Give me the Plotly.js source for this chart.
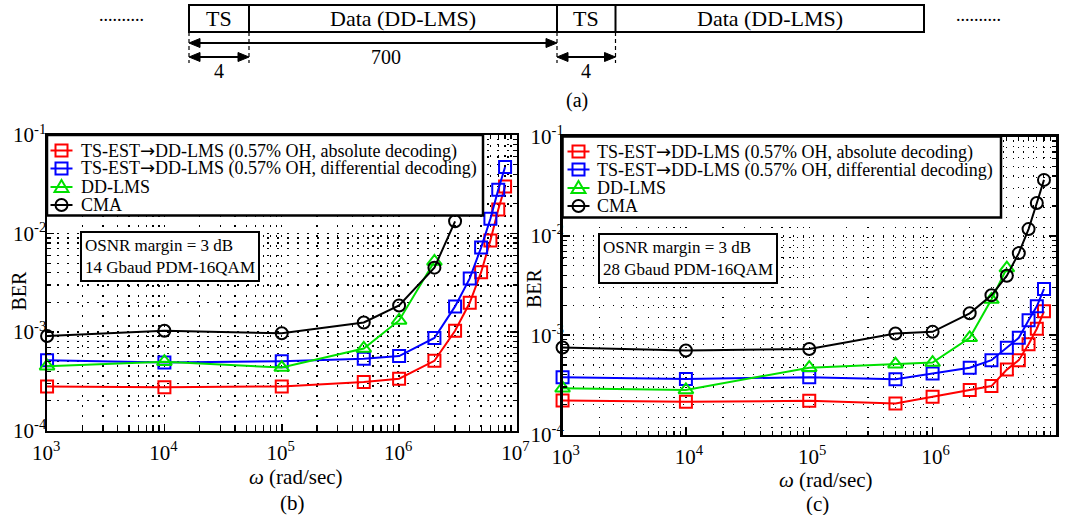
<!DOCTYPE html>
<html>
<head>
<meta charset="utf-8">
<script src="https://cdn.plot.ly/plotly-3.0.1.min.js"></script>
<style>
html,body{margin:0;padding:0;background:#fff;}
#chart{width:1065px;height:515px;}
</style>
</head>
<body>
<div id="chart"></div>
<script>
// ---------------- DATA ----------------
const seriesNames = [
  'TS-EST\u2192DD-LMS (0.57% OH, absolute decoding)',
  'TS-EST\u2192DD-LMS (0.57% OH, differential decoding)',
  'DD-LMS',
  'CMA'
];

// (b) 14 Gbaud PDM-16QAM
const omegaB_ts   = [1e3, 1e4, 1e5, 5e5, 1e6, 2e6, 3e6, 4e6, 5e6, 6e6, 7e6, 8e6];
const berB_abs    = [2.8e-4, 2.75e-4, 2.8e-4, 3.1e-4, 3.35e-4, 5.1e-4, 1.03e-3, 1.98e-3, 4.05e-3, 8.5e-3, 1.75e-2, 3.0e-2];
const berB_diff   = [5.15e-4, 4.9e-4, 5.05e-4, 5.35e-4, 5.7e-4, 8.7e-4, 1.82e-3, 3.5e-3, 7.2e-3, 1.41e-2, 2.79e-2, 4.74e-2];
const omegaB_dd   = [1e3, 1e4, 1e5, 5e5, 1e6, 2e6];
const berB_dd     = [4.5e-4, 5.0e-4, 4.35e-4, 6.8e-4, 1.31e-3, 5.2e-3];
const omegaB_cma  = [1e3, 1e4, 1e5, 5e5, 1e6, 2e6, 3e6];
const berB_cma    = [9.1e-4, 1.03e-3, 9.7e-4, 1.25e-3, 1.86e-3, 4.5e-3, 1.33e-2];

// (c) 28 Gbaud PDM-16QAM
const omegaC_ts   = [1e3, 1e4, 1e5, 5e5, 1e6, 2e6, 3e6, 4e6, 5e6, 6e6, 7e6, 8e6];
const berC_abs    = [2.2e-4, 2.13e-4, 2.18e-4, 2.05e-4, 2.4e-4, 2.8e-4, 3.07e-4, 4.5e-4, 5.6e-4, 8.1e-4, 1.16e-3, 1.74e-3];
const berC_diff   = [3.77e-4, 3.62e-4, 3.77e-4, 3.6e-4, 4.1e-4, 4.69e-4, 5.6e-4, 7.45e-4, 9.4e-4, 1.41e-3, 1.95e-3, 2.92e-3];
const omegaC_dd   = [1e3, 1e4, 1e5, 5e5, 1e6, 2e6, 3e6, 4e6];
const berC_dd     = [2.92e-4, 2.81e-4, 4.7e-4, 5.1e-4, 5.3e-4, 9.4e-4, 2.28e-3, 4.74e-3];
const omegaC_cma  = [1e3, 1e4, 1e5, 5e5, 1e6, 2e6, 3e6, 4e6, 5e6, 6e6, 7e6, 8e6];
const berC_cma    = [7.5e-4, 7.0e-4, 7.25e-4, 1.04e-3, 1.08e-3, 1.66e-3, 2.52e-3, 3.97e-3, 6.7e-3, 1.17e-2, 2.14e-2, 3.66e-2];

const xTickVals = [1e3, 1e4, 1e5, 1e6, 1e7];
const xTickText = ['10<sup>3</sup>', '10<sup>4</sup>', '10<sup>5</sup>', '10<sup>6</sup>', '10<sup>7</sup>'];
const yTickVals = [1e-4, 1e-3, 1e-2, 1e-1];
const yTickText = ['10<sup>-4</sup>', '10<sup>-3</sup>', '10<sup>-2</sup>', '10<sup>-1</sup>'];

const boxTextB = 'OSNR margin = 3 dB<br>14 Gbaud PDM-16QAM';
const boxTextC = 'OSNR margin = 3 dB<br>28 Gbaud PDM-16QAM';

// ---------------- STYLE ----------------
const W = 1065, H = 515;
const X = px => px / W;
const Y = py => 1 - py / H;
const P = (px, py) => X(px) + ',' + Y(py);
const FONT = 'Liberation Serif, Times New Roman, serif';
const colors = ['#ff0000', '#0000ff', '#00e000', '#000000'];
const symbols = ['square-open', 'square-open', 'triangle-up-open', 'circle-open'];
const msize = [12, 12, 13, 12];

function mk(x, y, i, xa, ya) {
  return {
    x: x, y: y, type: 'scatter', mode: 'lines+markers',
    name: seriesNames[i], xaxis: xa, yaxis: ya, showlegend: false,
    line: {color: colors[i], width: 2},
    marker: {symbol: symbols[i], size: msize[i], color: colors[i], line: {color: colors[i], width: 2}},
    cliponaxis: false
  };
}

const traces = [
  mk(omegaB_ts, berB_abs, 0, 'x', 'y'),
  mk(omegaB_ts, berB_diff, 1, 'x', 'y'),
  mk(omegaB_dd, berB_dd, 2, 'x', 'y'),
  mk(omegaB_cma, berB_cma, 3, 'x', 'y'),
  mk(omegaC_ts, berC_abs, 0, 'x2', 'y2'),
  mk(omegaC_ts, berC_diff, 1, 'x2', 'y2'),
  mk(omegaC_dd, berC_dd, 2, 'x2', 'y2'),
  mk(omegaC_cma, berC_cma, 3, 'x2', 'y2')
];

const gridDash = '1.5px,8.5px';
function xAxis(d, anchor, shift) {
  return {
    domain: d, anchor: anchor, type: 'log', range: [2.9995, 7.0005],
    tickmode: 'array', tickvals: xTickVals, ticktext: xTickText,
    ticks: 'inside', ticklen: 7, tickwidth: 1.5, tickcolor: '#000',
    showline: true, linewidth: 2.5, linecolor: '#000', mirror: 'allticks',
    showgrid: true, gridcolor: '#000', gridwidth: 1.3, griddash: gridDash,
    zeroline: false, ticklabelshift: shift, ticklabelstandoff: 2,
    tickfont: {family: FONT, size: 21, color: '#000'},
    minor: {dtick: 'D1', ticks: 'inside', ticklen: 4, tickwidth: 1.2, tickcolor: '#000',
            showgrid: true, gridcolor: '#000', gridwidth: 1.3, griddash: gridDash}
  };
}
function yAxis(d, anchor, standoff) {
  return {
    domain: d, anchor: anchor, type: 'log', range: [-4.0005, -0.9995],
    tickmode: 'array', tickvals: yTickVals, ticktext: yTickText,
    ticks: 'inside', ticklen: 7, tickwidth: 1.5, tickcolor: '#000',
    showline: true, linewidth: 2.5, linecolor: '#000', mirror: 'allticks',
    showgrid: true, gridcolor: '#000', gridwidth: 1.3, griddash: gridDash,
    zeroline: false, ticklabelstandoff: standoff,
    tickfont: {family: FONT, size: 21, color: '#000'},
    minor: {dtick: 'D1', ticks: 'inside', ticklen: 4, tickwidth: 1.2, tickcolor: '#000',
            showgrid: true, gridcolor: '#000', gridwidth: 1.3, griddash: gridDash}
  };
}

const lineBlk = {color: '#000', width: 2};
const dashBlk = {color: '#000', width: 1.2, dash: '4px,3px'};
const shapes = [];
const annotations = [];

function txt(t, px, py, size, extra) {
  return Object.assign({text: t, x: X(px), y: Y(py), xref: 'paper', yref: 'paper',
    showarrow: false, xanchor: 'center', yanchor: 'middle',
    font: {family: FONT, size: size, color: '#000'}}, extra || {});
}
function pLine(x0, y0, x1, y1, line) {
  shapes.push({type: 'line', xref: 'paper', yref: 'paper', x0: X(x0), x1: X(x1), y0: Y(y0), y1: Y(y1), line: line, layer: 'above'});
}

// ---- custom legends (tight spacing as in the reference) ----
function legendBlock(x0, y0, x1, y1, symX, textX, rowsY) {
  shapes.push({type: 'rect', xref: 'paper', yref: 'paper', x0: X(x0), x1: X(x1), y0: Y(y0), y1: Y(y1),
    line: {color: '#000', width: 2.5}, fillcolor: '#fff', layer: 'above'});
  rowsY.forEach((cy, i) => {
    const c = colors[i];
    const ln = {color: c, width: 2};
    pLine(symX - 11, cy, symX + 11, cy, ln);
    if (i < 2) {
      shapes.push({type: 'rect', xref: 'paper', yref: 'paper', x0: X(symX - 6), x1: X(symX + 6),
        y0: Y(cy - 6), y1: Y(cy + 6), line: ln, layer: 'above'});
    } else if (i === 2) {
      shapes.push({type: 'path', xref: 'paper', yref: 'paper', layer: 'above', line: ln,
        path: 'M' + P(symX, cy - 7) + 'L' + P(symX + 7, cy + 5) + 'L' + P(symX - 7, cy + 5) + 'Z'});
    } else {
      shapes.push({type: 'circle', xref: 'paper', yref: 'paper', x0: X(symX - 6), x1: X(symX + 6),
        y0: Y(cy - 6), y1: Y(cy + 6), line: ln, layer: 'above'});
    }
    const name = seriesNames[i].replace('\u2192', '<span style="font-family:DejaVu Sans">\u2192</span>');
    annotations.push(txt(name, textX, cy, 18, {xanchor: 'left'}));
  });
}
legendBlock(47, 135, 483, 215.5, 61.5, 79, [150.5, 168.5, 187, 205]);
legendBlock(562.5, 136.5, 1001, 217.5, 578.5, 595, [151.5, 169.5, 188, 206]);

// ---- top diagram (a) ----
shapes.push({type: 'rect', xref: 'paper', yref: 'paper', x0: X(189), x1: X(924), y0: Y(5), y1: Y(32), line: lineBlk});
[249, 557, 615.5].forEach(v => pLine(v, 5, v, 32, lineBlk));
[189, 249, 557, 615.5].forEach(v => pLine(v, 32, v, 63, dashBlk));
function dblArrow(x0, x1, y) {
  pLine(x0 + 6, y, x1 - 6, y, {color: '#000', width: 2.2});
  shapes.push({type: 'path', xref: 'paper', yref: 'paper', fillcolor: '#000', line: {color: '#000', width: 1},
    path: 'M' + P(x0, y) + 'L' + P(x0 + 11, y - 4.5) + 'L' + P(x0 + 11, y + 4.5) + 'Z'});
  shapes.push({type: 'path', xref: 'paper', yref: 'paper', fillcolor: '#000', line: {color: '#000', width: 1},
    path: 'M' + P(x1, y) + 'L' + P(x1 - 11, y - 4.5) + 'L' + P(x1 - 11, y + 4.5) + 'Z'});
}
dblArrow(189, 557, 43);
dblArrow(189, 249, 57);
dblArrow(557, 615.5, 57);

annotations.push(
  txt('TS', 219, 18, 22), txt('Data (DD-LMS)', 403, 18, 22),
  txt('TS', 586, 18, 22), txt('Data (DD-LMS)', 770, 18, 22),
  txt('..........', 121, 15, 18), txt('..........', 978, 15, 18),
  txt('700', 386, 57, 20), txt('4', 219, 71, 20), txt('4', 586, 71, 20),
  txt('(a)', 577, 100, 20),
  txt(boxTextB, 80, 231, 17, {xanchor: 'left', yanchor: 'top', align: 'left',
      bordercolor: '#000', borderwidth: 2, bgcolor: '#fff', borderpad: 3}),
  txt(boxTextC, 598, 233, 17, {xanchor: 'left', yanchor: 'top', align: 'left',
      bordercolor: '#000', borderwidth: 2, bgcolor: '#fff', borderpad: 3}),
  txt('BER', 18.5, 291, 20, {textangle: -90}),
  txt('BER', 534, 288, 20, {textangle: -90}),
  txt('<i>\u03c9</i> (rad/sec)', 296, 477, 21),
  txt('<i>\u03c9</i> (rad/sec)', 826, 480, 21),
  txt('(b)', 292, 503, 21),
  txt('(c)', 817, 504, 21)
);

const layout = {
  width: W, height: H,
  margin: {l: 0, r: 0, t: 0, b: 0, pad: 0},
  paper_bgcolor: '#fff', plot_bgcolor: '#fff',
  font: {family: FONT, color: '#000'},
  showlegend: false,
  xaxis: xAxis([X(47), X(516.5)], 'y', -1),
  yaxis: yAxis([Y(430.5), Y(135)], 'x', -6),
  xaxis2: xAxis([X(562.5), X(1056)], 'y2', 3),
  yaxis2: yAxis([Y(434.5), Y(136.5)], 'x2', -8),
  shapes: shapes,
  annotations: annotations
};

Plotly.newPlot('chart', traces, layout, {displayModeBar: false, staticPlot: true});
</script>
</body>
</html>
